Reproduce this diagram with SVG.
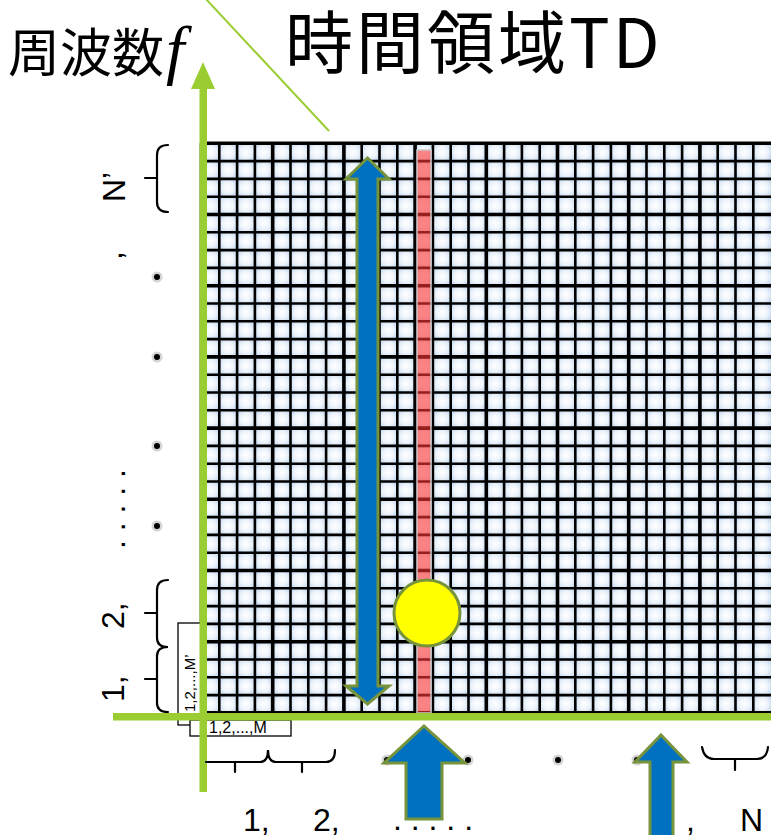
<svg xmlns="http://www.w3.org/2000/svg" width="771" height="835" viewBox="0 0 771 835">
<style>
.thin{stroke:#000;stroke-width:2.6;fill:none}
.thick{stroke:#000;stroke-width:3.6;fill:none}
.axis{fill:#9ACD32}
.brace{stroke:#000;stroke-width:2.2;fill:none;stroke-linecap:round}
.blue{fill:#0070C0;stroke:#77933C;stroke-width:3;stroke-linejoin:miter}
.lbl{font-family:"Liberation Sans","Noto Sans",sans-serif;fill:#000}
.cjk{font-family:"Noto Sans CJK JP","Noto Sans",sans-serif;fill:#000}
.box{fill:#fff;stroke:#000;stroke-width:1.3}
</style>
<defs>
<radialGradient id="cellGrad" cx="0.5" cy="0.5" r="0.7">
<stop offset="0" stop-color="#ffffff"/>
<stop offset="0.45" stop-color="#eef4fb"/>
<stop offset="1" stop-color="#b4cde9"/>
</radialGradient>
<pattern id="cells" patternUnits="userSpaceOnUse" x="201.5" y="143.3" width="17.8" height="17.8">
<rect x="0" y="0" width="17.8" height="17.8" fill="url(#cellGrad)"/>
</pattern>
<g id="dot"><circle r="5.5" fill="#b8b8b8" opacity="0.6"/><circle r="3" fill="#000"/></g>
</defs>
<rect width="771" height="835" fill="#fff"/>

<g id="title">
<text class="cjk" x="285" y="68" font-size="68" letter-spacing="3">時間領域TD</text>
</g>
<g id="freq-label">
<text class="cjk" x="8" y="72" font-size="52">周波数</text>
<text x="166" y="72" font-size="66" font-style="italic" font-family="'Liberation Serif',serif">f</text>
</g>

<g id="grid">
<rect x="201.5" y="143.3" width="570" height="569.6" fill="url(#cells)"/>
<path class="thin" d="M219.3,143.3V712.9M237.1,143.3V712.9M254.9,143.3V712.9M290.5,143.3V712.9M308.3,143.3V712.9M326.1,143.3V712.9M361.7,143.3V712.9M379.5,143.3V712.9M397.3,143.3V712.9M432.9,143.3V712.9M450.7,143.3V712.9M468.5,143.3V712.9M504.1,143.3V712.9M521.9,143.3V712.9M539.7,143.3V712.9M575.3,143.3V712.9M593.1,143.3V712.9M610.9,143.3V712.9M646.5,143.3V712.9M664.3,143.3V712.9M682.1,143.3V712.9M717.7,143.3V712.9M735.5,143.3V712.9M753.3,143.3V712.9
M201.5,161.1H771M201.5,178.9H771M201.5,196.7H771M201.5,232.3H771M201.5,250.1H771M201.5,267.9H771M201.5,303.5H771M201.5,321.3H771M201.5,339.1H771M201.5,374.7H771M201.5,392.5H771M201.5,410.3H771M201.5,445.9H771M201.5,463.7H771M201.5,481.5H771M201.5,517.1H771M201.5,534.9H771M201.5,552.7H771M201.5,588.3H771M201.5,606.1H771M201.5,623.9H771M201.5,659.5H771M201.5,677.3H771M201.5,695.1H771"/>
<path class="thick" d="M201.5,143.3V712.9M272.7,143.3V712.9M343.9,143.3V712.9M415.1,143.3V712.9M486.3,143.3V712.9M557.5,143.3V712.9M628.7,143.3V712.9M699.9,143.3V712.9
M201.5,143.3H771M201.5,214.5H771M201.5,285.7H771M201.5,356.9H771M201.5,428.1H771M201.5,499.3H771M201.5,570.5H771M201.5,641.7H771M201.5,712.9H771"/>
</g>

<g id="selected-column">
<rect x="417" y="150" width="14" height="563" fill="#ff3333" fill-opacity="0.6" stroke="#c8c8c8" stroke-width="1.5"/>
</g>

<g id="label-boxes">
<rect class="box" x="178" y="623" width="24" height="102"/>
<text class="lbl" font-size="15" transform="translate(195,712) rotate(-90)">1,2,...,M’</text>
<rect class="box" x="190" y="720" width="101" height="16"/>
<text class="lbl" x="209" y="733" font-size="16">1,2,...,M</text>
</g>

<g id="axes">
<line x1="205" y1="-2" x2="329" y2="131" stroke="#9ACD32" stroke-width="2"/>
<rect class="axis" x="199.5" y="88" width="7.5" height="704"/>
<polygon class="axis" points="203,62 215,89 191,89"/>
<rect class="axis" x="113" y="713" width="658" height="7.5"/>
</g>

<g id="connectors">
<path class="brace" d="M168,145 Q157,145 157,155 L157,202 Q157,212 168,212 M145,178 H157"/>
<path class="brace" d="M168,580 Q157,580 157,590 L157,638 Q157,647 168,647 Q157,647 157,656 L157,703 Q157,712 168,712 M145,613 H157 M145,679 H157"/>
<path class="brace" d="M206,762 H260 Q268,762 268,750 Q268,762 276,762 H326 Q335,762 335,750 M235,762 V772 M302,762 V772"/>
<path class="brace" d="M702,747 Q704,759 714,759 H757 Q767,759 768,747 M735,759 V770"/>
</g>

<g id="left-labels">
<text class="lbl" font-size="32" transform="translate(125,202) rotate(-90)">N’</text>
<text class="lbl" font-size="32" transform="translate(122,260) rotate(-90)">,</text>
<text class="lbl" font-size="32" transform="translate(125,549) rotate(-90)">. . . . .</text>
<text class="lbl" font-size="32" transform="translate(124,629) rotate(-90)">2,</text>
<text class="lbl" font-size="32" transform="translate(124,702) rotate(-90)">1,</text>
<use href="#dot" x="157" y="277"/>
<use href="#dot" x="157" y="357"/>
<use href="#dot" x="157" y="446"/>
<use href="#dot" x="157" y="526"/>
</g>

<g id="bottom-labels">
<text class="lbl" x="243" y="831" font-size="32">1,</text>
<text class="lbl" x="313" y="831" font-size="32">2,</text>
<text class="lbl" x="393" y="830" font-size="32">. . . . .</text>
<text class="lbl" x="686" y="831" font-size="32">,</text>
<text class="lbl" x="740" y="831" font-size="32">N</text>
<use href="#dot" x="387" y="760"/>
<use href="#dot" x="468" y="760"/>
<use href="#dot" x="558" y="760"/>
<use href="#dot" x="637" y="760"/>
</g>

<g id="double-arrow">
<polygon class="blue" points="367.5,158 389,179 378,179 378,686 389,686 367.5,704 346,686 357,686 357,179 346,179"/>
</g>
<g id="point">
<circle cx="427" cy="613" r="33" fill="#FFFF00" stroke="#77933C" stroke-width="3"/>
</g>
<g id="up-arrow-1">
<polygon class="blue" points="424,726 465,763 442,763 442,819 406,819 406,763 384,763"/>
</g>
<g id="up-arrow-2">
<polygon class="blue" points="661,735 687,762 673,762 673,840 650,840 650,762 635,762"/>
</g>
</svg>
